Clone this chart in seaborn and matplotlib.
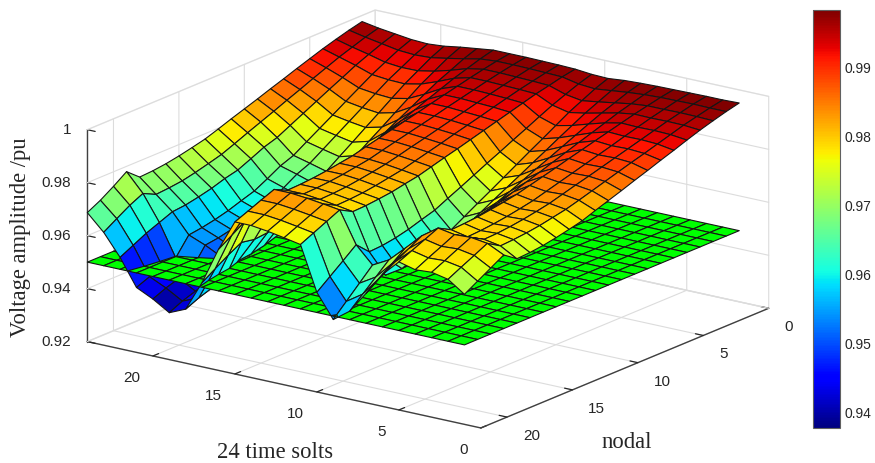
import numpy as np
import pandas as pd
import seaborn as sns
import matplotlib
import matplotlib.pyplot as plt
from matplotlib.colors import Normalize
from matplotlib.cm import ScalarMappable
from mpl_toolkits.mplot3d.art3d import Poly3DCollection

# voltage per node, one value for each of the 24 time slots
node_01 = [.9982,.9980,.9980,.9979,.9978,.9977,.9975,.9972,.9966,.9968,.9974,.9976,.9977,.9978,.9978,.9978,.9970,.9962,.9952,.9947,.9950,.9958,.9966,.9977]
node_02 = [.9970,.9970,.9971,.9970,.9969,.9966,.9961,.9954,.9947,.9952,.9965,.9967,.9969,.9970,.9970,.9965,.9952,.9940,.9929,.9926,.9930,.9941,.9952,.9965]
node_03 = [.9956,.9958,.9959,.9958,.9958,.9952,.9942,.9932,.9923,.9933,.9953,.9956,.9958,.9960,.9960,.9949,.9929,.9912,.9900,.9899,.9905,.9921,.9935,.9951]
node_04 = [.9941,.9946,.9947,.9946,.9947,.9938,.9924,.9910,.9899,.9913,.9942,.9945,.9947,.9949,.9949,.9933,.9907,.9884,.9871,.9873,.9879,.9900,.9918,.9936]
node_05 = [.9924,.9931,.9933,.9932,.9934,.9921,.9903,.9884,.9870,.9890,.9928,.9932,.9935,.9937,.9937,.9914,.9880,.9850,.9837,.9841,.9849,.9875,.9898,.9919]
node_06 = [.9906,.9916,.9919,.9918,.9921,.9904,.9881,.9858,.9841,.9866,.9914,.9919,.9922,.9925,.9925,.9895,.9852,.9817,.9802,.9809,.9819,.9851,.9878,.9902]
node_07 = [.9889,.9901,.9905,.9903,.9908,.9888,.9859,.9831,.9813,.9843,.9900,.9905,.9909,.9913,.9913,.9875,.9825,.9783,.9768,.9777,.9788,.9826,.9857,.9884]
node_08 = [.9871,.9887,.9891,.9889,.9895,.9871,.9837,.9805,.9784,.9819,.9886,.9892,.9897,.9900,.9900,.9856,.9798,.9750,.9733,.9745,.9758,.9801,.9837,.9867]
node_09 = [.9854,.9872,.9877,.9875,.9882,.9854,.9816,.9778,.9755,.9796,.9872,.9879,.9884,.9888,.9888,.9837,.9771,.9716,.9699,.9713,.9728,.9776,.9816,.9849]
node_10 = [.9836,.9857,.9863,.9861,.9868,.9837,.9794,.9752,.9726,.9772,.9858,.9865,.9871,.9876,.9876,.9817,.9744,.9683,.9664,.9681,.9697,.9751,.9796,.9832]
node_11 = [.9819,.9842,.9850,.9847,.9855,.9821,.9772,.9726,.9698,.9748,.9845,.9852,.9859,.9864,.9864,.9798,.9717,.9650,.9640,.9660,.9678,.9735,.9776,.9815]
node_12 = [.9802,.9827,.9836,.9833,.9842,.9804,.9751,.9699,.9669,.9725,.9831,.9839,.9846,.9852,.9852,.9779,.9690,.9616,.9608,.9630,.9650,.9712,.9755,.9797]
node_13 = [.9784,.9813,.9822,.9819,.9829,.9787,.9729,.9673,.9640,.9701,.9817,.9826,.9834,.9839,.9839,.9760,.9663,.9583,.9578,.9602,.9624,.9690,.9735,.9780]
node_14 = [.9772,.9803,.9812,.9809,.9820,.9776,.9714,.9655,.9621,.9686,.9808,.9817,.9825,.9831,.9831,.9747,.9645,.9560,.9560,.9586,.9608,.9678,.9721,.9768]
node_15 = [.9761,.9793,.9803,.9800,.9812,.9765,.9700,.9638,.9602,.9670,.9798,.9808,.9817,.9823,.9823,.9734,.9626,.9538,.9540,.9568,.9591,.9662,.9708,.9757]
node_16 = [.9752,.9786,.9796,.9793,.9805,.9757,.9689,.9624,.9588,.9658,.9792,.9801,.9810,.9817,.9817,.9724,.9613,.9521,.9525,.9554,.9578,.9650,.9697,.9748]
node_17 = [.9746,.9781,.9791,.9788,.9801,.9751,.9682,.9616,.9578,.9650,.9787,.9797,.9806,.9813,.9813,.9718,.9604,.9510,.9513,.9543,.9568,.9640,.9691,.9742]
node_18 = [.9743,.9778,.9789,.9785,.9798,.9748,.9678,.9611,.9573,.9647,.9785,.9795,.9804,.9811,.9811,.9715,.9599,.9504,.9505,.9536,.9561,.9635,.9687,.9739]
node_19 = [.9778,.9808,.9817,.9814,.9825,.9782,.9722,.9664,.9631,.9694,.9812,.9821,.9829,.9835,.9835,.9753,.9608,.9460,.9434,.9468,.9495,.9615,.9711,.9780]
node_20 = [.9749,.9783,.9794,.9790,.9803,.9754,.9685,.9620,.9583,.9654,.9789,.9799,.9808,.9815,.9815,.9721,.9581,.9443,.9417,.9452,.9480,.9595,.9687,.9745]
node_21 = [.9720,.9759,.9770,.9767,.9781,.9726,.9649,.9576,.9535,.9615,.9766,.9777,.9787,.9794,.9794,.9689,.9550,.9426,.9400,.9436,.9465,.9570,.9657,.9713]
node_22 = [.9691,.9734,.9747,.9743,.9759,.9698,.9613,.9532,.9487,.9576,.9743,.9755,.9766,.9774,.9774,.9657,.9518,.9404,.9377,.9415,.9445,.9545,.9626,.9687]

time_slots = list(range(1, 25))
nodes = list(range(1, 23))
limit_level = 0.95
color_limits = (0.9377, 0.9983)
x_ticks = [0, 5, 10, 15, 20]
y_ticks = [0, 5, 10, 15, 20]
z_ticks = [0.92, 0.94, 0.96, 0.98, 1.0]
z_labels = ['0.92', '0.94', '0.96', '0.98', '1']
bar_ticks = [0.94, 0.95, 0.96, 0.97, 0.98, 0.99]

df = pd.DataFrame(
    [node_01, node_02, node_03, node_04, node_05, node_06, node_07, node_08,
     node_09, node_10, node_11, node_12, node_13, node_14, node_15, node_16,
     node_17, node_18, node_19, node_20, node_21, node_22],
    index=nodes, columns=time_slots)

sns.set_theme(style='white')
plt.rcParams['font.family'] = ['Liberation Sans', 'DejaVu Sans']
plt.rcParams['grid.color'] = '#dcdcdc'
plt.rcParams['grid.linewidth'] = 0.8
jet = matplotlib.colormaps['jet']
norm = Normalize(*color_limits)

W, H = 875, 463
fig = plt.figure(figsize=(W / 100, H / 100), dpi=100)

# square axes bigger than the figure, so nothing gets clipped
S = 1000
ax = fig.add_axes([(428 - 0.5135 * S) / W, (244 - 0.5135 * S) / H, S / W, S / H],
                  projection='3d', proj_type='ortho')
ax.view_init(elev=17.58, azim=126)
ax.set_box_aspect((486.5, 489.8, 222.3), zoom=704 / S)
ax.computed_zorder = False
ax.patch.set_alpha(0)
ax.set_xlim(0, 24)
ax.set_ylim(0, 22)
ax.set_zlim(0.92, 1.0)


def clip_cell(cell, level, above):
    # cut a cell along the green plane, keep one side
    out = []
    for a, b in zip(cell, np.roll(cell, -1, axis=0)):
        in_a = a[2] >= level if above else a[2] <= level
        in_b = b[2] >= level if above else b[2] <= level
        if in_a:
            out.append(a)
        if in_a != in_b:
            out.append(a + (level - a[2]) / (b[2] - a[2]) * (b - a))
    return out


X, Y = np.meshgrid(df.columns.values, df.index.values)
Z = df.values
lower, upper, lower_c, upper_c = [], [], [], []
for j in range(Z.shape[0] - 1):
    for i in range(Z.shape[1] - 1):
        idx = [(j, i), (j, i + 1), (j + 1, i + 1), (j + 1, i)]
        cell = np.array([[X[p], Y[p], Z[p]] for p in idx])
        color = jet(norm(Z[j, i]))
        part = clip_cell(cell, limit_level, True)
        if len(part) > 2:
            upper.append(part)
            upper_c.append(color)
        part = clip_cell(cell, limit_level, False)
        if len(part) > 2:
            lower.append(part)
            lower_c.append(color)

plane = []
for j in range(Z.shape[0] - 1):
    for i in range(Z.shape[1] - 1):
        plane.append([(X[j, i], Y[j, i], limit_level), (X[j, i + 1], Y[j, i + 1], limit_level),
                      (X[j + 1, i + 1], Y[j + 1, i + 1], limit_level), (X[j + 1, i], Y[j + 1, i], limit_level)])

# z grid on the two back walls, the swapped z axis would put it in front
for z in z_ticks:
    ax.plot([0, 24, 24], [0, 0, 22], [z, z, z], color='#dcdcdc', lw=0.8, zorder=0)

# below the plane, then the plane, then above it
edge = '#151515'
ax.add_collection3d(Poly3DCollection(lower, facecolors=lower_c, edgecolors=edge, linewidths=0.8, zorder=1))
ax.add_collection3d(Poly3DCollection(plane, facecolors='#00ff00', edgecolors=edge, linewidths=0.8, zorder=2))
ax.add_collection3d(Poly3DCollection(upper, facecolors=upper_c, edgecolors=edge, linewidths=0.8, zorder=3))

ax.set_xticks(x_ticks)
ax.set_yticks(y_ticks)
ax.set_zticks(z_ticks)
ax.set_zticklabels(z_labels)
# z axis goes on the left edge
planes = ax.zaxis._PLANES
ax.zaxis._PLANES = (planes[2], planes[3], planes[0], planes[1], planes[4], planes[5])
ax.zaxis._axinfo['grid']['linewidth'] = 0
for axis in (ax.xaxis, ax.yaxis, ax.zaxis):
    axis.pane.fill = False
    axis.pane.set_edgecolor('#dcdcdc')
    axis.line.set_color('#404040')
    axis.line.set_linewidth(1.0)
    axis._axinfo['tick']['color'] = '#404040'
    axis._axinfo['tick']['linewidth'] = {True: 0.9, False: 0.9}
    axis._axinfo['tick']['inward_factor'] = 0.0
    axis._axinfo['tick']['outward_factor'] = 0.25
ax.tick_params(labelsize=11, labelcolor='#262626')
ax.tick_params(axis='x', pad=9)
ax.tick_params(axis='y', pad=7)
ax.tick_params(axis='z', pad=1)
for t in ax.get_xticklabels():
    t.set_ha('right')
for t in ax.get_yticklabels():
    t.set_ha('left')
for t in ax.get_zticklabels():
    t.set_ha('right')
    t.set_va('center')

fig.text(21 / W, 1 - 237 / H, 'Voltage amplitude /pu', rotation=90, ha='center', va='center',
         family='Liberation Serif', fontsize=16.3, color='#262626')
fig.text(275 / W, 1 - 452 / H, '24 time solts', ha='center', va='center',
         family='Liberation Serif', fontsize=16.3, color='#262626')
fig.text(627 / W, 1 - 443 / H, 'nodal', ha='center', va='center',
         family='Liberation Serif', fontsize=16.3, color='#262626')

cax = fig.add_axes([813 / W, 1 - 428 / H, 27 / W, 418 / H])
cb = fig.colorbar(ScalarMappable(norm=norm, cmap=jet), cax=cax)
cb.set_ticks(bar_ticks)
cb.set_ticklabels(['%.2f' % v for v in bar_ticks])
cb.ax.tick_params(direction='in', length=4, width=0.8, color='#404040', labelsize=10,
                  labelcolor='#262626', pad=3, right=True)
cb.outline.set_edgecolor('#606060')
cb.outline.set_linewidth(0.8)

fig.savefig('out.png', dpi=100)
